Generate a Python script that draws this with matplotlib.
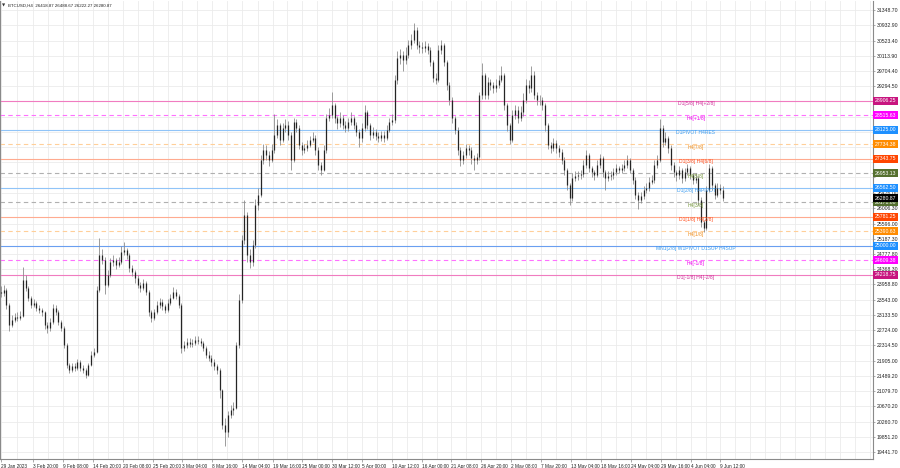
import numpy as np
import pandas as pd
import matplotlib
matplotlib.use("Agg")
import matplotlib.pyplot as plt

# ---------------- data (BTCUSD, 12h sampling of the H4 chart) ----------------
close = [
    23730, 23810, 23400, 22860, 23000, 23080, 23050, 23110, 24080, 23860,
    23590, 23400, 23460, 23320, 23270, 23210, 22860, 22780, 22940, 23320,
    23210, 22940, 22780, 22320, 21790, 21650, 21760, 21700, 21870, 21700,
    21650, 21520, 21790, 22060, 22140, 23810, 24750, 24610, 23940, 24210,
    24560, 24610, 24480, 24560, 24830, 24880, 24750, 24400, 24290, 24130,
    23940, 23860, 23990, 23750, 23210, 23050, 23210, 23400, 23480, 23370,
    23270, 23460, 23590, 23750, 23640, 23400, 22240, 22320, 22410, 22350,
    22380, 22460, 22430, 22380, 22240, 22060, 21970, 21870, 21760, 21650,
    21110, 20170, 19980, 20440, 20570, 20630, 22320, 23540, 25150, 25830,
    24750, 24560, 25020, 26100, 26370, 27310, 27580, 27440, 27310, 27580,
    27980, 28250, 27850, 28170, 28250, 27980, 27310, 28330, 28170, 27710,
    27580, 27630, 27710, 27850, 27900, 27580, 27170, 27040, 27580, 28440,
    28520, 28790, 28440, 28300, 28440, 28250, 28170, 28330, 28440, 28250,
    28060, 27900, 28170, 28600, 28250, 27980, 28060, 27950, 27900, 27980,
    27900, 28120, 28330, 28390, 29460, 30060, 30140, 30000, 30140, 30410,
    30540, 30810, 30410, 30350, 30330, 30380, 30270, 29950, 29520, 29460,
    30270, 30410, 29950, 29330, 28920, 28440, 28120, 27580, 27310, 27440,
    27630, 27580, 27360, 27310, 27390, 29060, 29600, 29060, 29410, 29330,
    29250, 29330, 29460, 29600, 28790, 28250, 27850, 28520, 28660, 28440,
    28600, 28920, 29330, 29250, 29600, 29060, 28920, 28920, 28790, 28250,
    27710, 27630, 27770, 27630, 27520, 27310, 27040, 26630, 26280, 26820,
    26880, 26900, 26930, 27170, 27440, 27090, 26980, 26900, 27170, 27360,
    26980, 26820, 26880, 26900, 26980, 27090, 27040, 27090, 27170, 27310,
    27040, 26770, 26370, 26230, 26340, 26500, 26550, 26720, 26770, 27170,
    27310, 28170, 27790, 27900, 27630, 27170, 26980, 26900, 27040, 26820,
    26980, 27090, 26900, 26770, 26820, 26230, 25640, 25480, 26500, 27090,
    26630, 26370, 26550, 26500, 26280.87,
]
high = [
    23900, 23950, 23870, 23450, 23120, 23180, 23200, 23250, 24420, 24200,
    23920, 23650, 23560, 23520, 23400, 23330, 23250, 22950, 23050, 23420,
    23400, 23260, 23000, 22830, 22380, 21850, 21850, 21830, 21960, 21920,
    21780, 21700, 21850, 22150, 22250, 23900, 25200, 24900, 24700, 24350,
    24680, 24750, 24680, 24700, 25000, 25100, 24950, 24800, 24480, 24350,
    24200, 24020, 24100, 24050, 23800, 23280, 23300, 23500, 23580, 23560,
    23420, 23550, 23700, 23880, 23820, 23700, 23450, 22430, 22520, 22500,
    22480, 22560, 22560, 22500, 22430, 22300, 22150, 22050, 21950, 21820,
    21700, 21150, 20350, 20550, 20700, 20800, 22400, 23700, 25300, 26230,
    25900, 24900, 25150, 26250, 26550, 27450, 27750, 27700, 27550, 27750,
    28550, 28400, 28300, 28300, 28400, 28350, 28050, 28450, 28420, 28250,
    27800, 27750, 27850, 27950, 28050, 27980, 27650, 27250, 27700, 28550,
    28700, 29150, 28850, 28500, 28600, 28520, 28350, 28450, 28600, 28500,
    28330, 28150, 28300, 28780, 28650, 28300, 28200, 28150, 28050, 28100,
    28080, 28250, 28450, 28550, 29600, 30250, 30300, 30250, 30350, 30550,
    30700, 31000, 30900, 30500, 30480, 30500, 30450, 30350, 30000, 29650,
    30400, 30550, 30450, 30000, 29400, 29000, 28500, 28200, 27650, 27550,
    27750, 27700, 27650, 27450, 27500, 29150, 29920, 29650, 29550, 29500,
    29420, 29480, 29600, 29850, 29650, 28850, 28300, 28650, 28800, 28750,
    28750, 29100, 29500, 29450, 29850, 29700, 29150, 29050, 29000, 28850,
    28300, 27800, 27900, 27850, 27700, 27600, 27380, 27100, 26700, 26950,
    27000, 27000, 27050, 27300, 27580, 27500, 27150, 27050, 27300, 27480,
    27420, 27050, 27000, 27000, 27100, 27200, 27150, 27200, 27300, 27450,
    27350, 27100, 26850, 26450, 26450, 26600, 26700, 26850, 26900, 27300,
    27450, 28400, 28250, 28050, 27950, 27700, 27250, 27050, 27150, 27100,
    27100, 27200, 27150, 26950, 26950, 26880, 26300, 25700, 26600, 27200,
    27150, 26700, 26700, 26650, 26600,
]
low = [
    23620, 23650, 23300, 22700, 22800, 22950, 22960, 22990, 23080, 23780,
    23500, 23330, 23350, 23250, 23180, 23100, 22750, 22640, 22700, 22900,
    23120, 22870, 22700, 22250, 21700, 21560, 21590, 21620, 21650, 21620,
    21560, 21440, 21480, 21750, 22000, 22100, 23750, 24500, 23700, 23880,
    24150, 24450, 24380, 24420, 24500, 24750, 24650, 24300, 24180, 24000,
    23850, 23750, 23800, 23680, 23100, 22950, 23000, 23150, 23330, 23280,
    23180, 23220, 23400, 23550, 23550, 23330, 22100, 22160, 22250, 22280,
    22280, 22320, 22350, 22300, 22150, 21980, 21880, 21750, 21650, 21550,
    20900, 20050, 19600, 19850, 20350, 20450, 20600, 22250, 23450, 25050,
    24550, 24400, 24450, 24950, 25950, 26300, 27200, 27300, 27150, 27250,
    27500, 27900, 27700, 27800, 28050, 27850, 27040, 27250, 28050, 27600,
    27450, 27500, 27550, 27650, 27780, 27450, 27050, 26900, 27000, 27500,
    28350, 28450, 28300, 28150, 28200, 28150, 28050, 28100, 28250, 28150,
    27950, 27650, 27800, 28100, 28150, 27850, 27900, 27850, 27800, 27820,
    27800, 27850, 28050, 28250, 28300, 29350, 29900, 29700, 29900, 30050,
    30300, 30450, 30300, 30200, 30200, 30220, 30150, 29850, 29400, 29350,
    29400, 30150, 29850, 29200, 28800, 28300, 28000, 27450, 27150, 27200,
    27350, 27450, 27200, 27040, 27200, 27300, 28950, 28950, 28950, 29200,
    29100, 29150, 29250, 29400, 28650, 28100, 27750, 27800, 28400, 28300,
    28350, 28500, 28850, 29100, 29150, 28950, 28800, 28780, 28650, 28100,
    27600, 27500, 27550, 27500, 27400, 27200, 26900, 26500, 26100, 26200,
    26750, 26780, 26800, 26850, 27100, 26980, 26850, 26780, 26850, 27100,
    26850, 26500, 26750, 26780, 26800, 26900, 26950, 26950, 27000, 27100,
    26950, 26650, 26250, 26000, 26150, 26250, 26420, 26480, 26650, 26700,
    27100, 27250, 27650, 27700, 27500, 27050, 26850, 26750, 26800, 26700,
    26750, 26900, 26800, 26650, 26700, 26100, 25500, 25380, 25420, 26450,
    26500, 26250, 26300, 26380, 26200,
]
first_open = 23760
start_time = "2023-01-29 00:00"

# Murrey-math levels drawn on the chart
level_prices = [28906.25, 28515.63, 28125.00, 27734.38, 27343.75, 26953.13,
                26562.50, 26171.88, 25781.25, 25390.63, 25000.00, 24609.38,
                24218.75]
level_names = ["D1[5/8] H4[+2/8]", "H4[+1/8]", "D1PIVOT H4RES", "H4[7/8]",
               "D1[3/8] H4[6/8]", "H4[5/8]", "D1[2/8] H4PIVOT", "H4[3/8]",
               "D1[1/8] H4[2/8]", "H4[1/8]", "MN1[2/8] W1PIVOT D1SUP H4SUP",
               "H4[-1/8]", "D1[-1/8] H4[-2/8]"]
level_kind = ["pink", "magenta", "blue", "orange", "red", "gray", "blue",
              "gray", "red", "orange", "blue2", "magenta", "pink"]
current_price = 26280.87

# price-axis labels (those hidden under the level boxes are left blank)
ytick_vals = [31348.70, 30932.90, 30523.40, 30113.90, 29704.40, 29294.50,
              28885.00, 28475.50, 28066.00, 27656.50, 27247.00, 26837.50,
              26426.00, 26006.30, 25596.00, 25187.30, 24777.80, 24368.30,
              23958.80, 23543.00, 23133.50, 22724.00, 22314.50, 21905.00,
              21489.20, 21079.70, 20670.20, 20260.70, 19851.20, 19441.70]
ytick_hidden = [28885.00, 28475.50, 28066.00, 27656.50, 27247.00, 26837.50]
xtick_times = ["2023-01-29 00:00", "2023-02-03 20:00", "2023-02-09 08:00",
               "2023-02-14 20:00", "2023-02-20 08:00", "2023-02-25 20:00",
               "2023-03-03 04:00", "2023-03-08 16:00", "2023-03-14 04:00",
               "2023-03-19 16:00", "2023-03-25 00:00", "2023-03-30 12:00",
               "2023-04-05 00:00", "2023-04-10 12:00", "2023-04-16 00:00",
               "2023-04-21 08:00", "2023-04-26 20:00", "2023-05-02 08:00",
               "2023-05-07 20:00", "2023-05-13 04:00", "2023-05-18 16:00",
               "2023-05-24 04:00", "2023-05-29 16:00", "2023-06-04 04:00",
               "2023-06-09 12:00"]
xtick_labels = ["29 Jan 2023", "3 Feb 20:00", "9 Feb 08:00", "14 Feb 20:00",
                "20 Feb 08:00", "25 Feb 20:00", "3 Mar 04:00", "8 Mar 16:00",
                "14 Mar 04:00", "19 Mar 16:00", "25 Mar 00:00", "30 Mar 12:00",
                "5 Apr 00:00", "10 Apr 12:00", "16 Apr 00:00", "21 Apr 08:00",
                "26 Apr 20:00", "2 May 08:00", "7 May 20:00", "13 May 04:00",
                "18 May 16:00", "24 May 04:00", "29 May 16:00", "4 Jun 04:00",
                "9 Jun 12:00"]
title_text = "BTCUSD,H4  26418.87 26488.67 26222.27 26280.87"

# ---------------- styles ----------------
STY = {
    "pink":    dict(line="#f07cc0", ls="-",  box="#c8157f", txt="#d0309a"),
    "magenta": dict(line="#ff70ff", ls=(0, (4, 3)), box="#ff00ff", txt="#f000f0"),
    "blue":    dict(line="#90c4f8", ls="-",  box="#1e90ff", txt="#3d9cf0"),
    "blue2":   dict(line="#6a9ff0", ls="-",  box="#1e90ff", txt="#3d9cf0"),
    "orange":  dict(line="#ffcf99", ls=(0, (4, 3)), box="#ff8c00", txt="#f09020"),
    "red":     dict(line="#ffab90", ls="-",  box="#ff4500", txt="#ff5020"),
    "gray":    dict(line="#b0b0b0", ls=(0, (4, 3)), box="#55702f", txt="#7a9a40"),
}

plt.rcParams["font.family"] = ["Liberation Sans", "DejaVu Sans"]
W, H = 900, 468
fig = plt.figure(figsize=(W / 100, H / 100), dpi=100)
fig.patch.set_facecolor("white")
ax_left, ax_right, ax_top, ax_bot = 0, 873, 1, 459
ax = fig.add_axes([ax_left / W, (H - ax_bot) / H, (ax_right - ax_left) / W,
                   (ax_bot - ax_top) / H])

t0 = pd.Timestamp(start_time)
times = pd.date_range(t0, periods=len(close), freq="12h")
xb = np.asarray((times - t0) / pd.Timedelta(hours=4), dtype=float)
c = np.asarray(close, dtype=float)
o = np.r_[first_open, c[:-1]]
hi = np.asarray(high, dtype=float)
lo = np.asarray(low, dtype=float)

ax.set_xlim(-1, 956.7)
ax.set_ylim(19253, 31591)

# grid
tick_b = np.asarray((pd.to_datetime(xtick_times) - t0) / pd.Timedelta(hours=4), dtype=float)
step = np.mean(np.diff(tick_b))
grid_x = np.sort(np.r_[tick_b, (tick_b[:-1] + tick_b[1:]) / 2,
                       np.arange(tick_b[-1] + step / 2, 957, step / 2)])
for gx in grid_x:
    ax.axvline(gx, color="#ebebeb", lw=0.6, zorder=0)
for gy in ytick_vals:
    ax.axhline(gy, color="#ebebeb", lw=0.6, zorder=0)

# levels
xlab = 762.5
for p, name, k in zip(level_prices, level_names, level_kind):
    s = STY[k]
    ax.axhline(p, color=s["line"], lw=0.8, ls=s["ls"], zorder=1)
    ax.text(xlab, p - 20, name, color=s["txt"], fontsize=3.6, ha="center",
            va="top", zorder=4)
    ax.annotate(f"{p:.2f}", xy=(1.0, p), xycoords=("axes fraction", "data"),
                xytext=(1.3, 0), textcoords="offset points", ha="left",
                va="center", fontsize=3.7, color="white", zorder=6,
                annotation_clip=False,
                bbox=dict(boxstyle="square,pad=0.3", fc=s["box"], ec="none"))
ax.annotate(f"{current_price:.2f}", xy=(1.0, current_price),
            xycoords=("axes fraction", "data"), xytext=(1.3, 0),
            textcoords="offset points", ha="left", va="center", fontsize=3.7,
            color="white", zorder=7, annotation_clip=False,
            bbox=dict(boxstyle="square,pad=0.3", fc="black", ec="none"))

# candles
ax.vlines(xb, lo, hi, color="#8c8c8c", lw=0.6, zorder=2)
ax.vlines(xb, np.minimum(o, c), np.maximum(o, c), color="#252525", lw=0.9,
          zorder=3)

# axes styling
ax.spines["top"].set_visible(False)
for sp in ["left", "right", "bottom"]:
    ax.spines[sp].set_color("#8a8a8a")
    ax.spines[sp].set_linewidth(0.8)
ax.yaxis.tick_right()
ax.set_yticks(ytick_vals)
ax.set_yticklabels(["" if v in ytick_hidden else f"{v:.2f}" for v in ytick_vals])
ax.tick_params(axis="y", length=1.5, width=0.5, colors="#8a8a8a",
               labelcolor="#222222", labelsize=3.7, pad=1.2)
ax.set_xticks(tick_b)
ax.set_xticklabels(xtick_labels, ha="left")
ax.tick_params(axis="x", length=2, width=0.5, colors="#8a8a8a",
               labelcolor="#222222", labelsize=3.4, pad=1.5)
ax.set_facecolor("white")

fig.text(2 / W, 1 - 5.5 / H, "\u25bc", fontsize=3.0, color="#333333",
         va="center", ha="left", family=["DejaVu Sans"])
fig.text(8 / W, 1 - 5.5 / H, title_text, fontsize=3.2, color="#222222",
         va="center", ha="left")

fig.savefig("out.png", dpi=100, facecolor="white")
